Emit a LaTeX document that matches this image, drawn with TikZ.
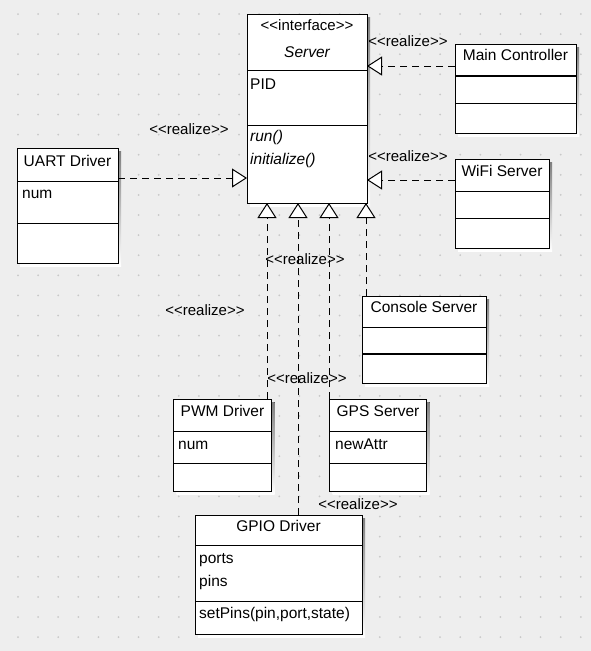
\documentclass[tikz,border=0pt]{standalone}
\usepackage{fontspec}
\setmainfont{Liberation Sans}
\usetikzlibrary{arrows.meta}

\definecolor{canvas}{HTML}{EEEEEE}
\definecolor{griddot}{HTML}{C8C8C8}
\definecolor{shade}{HTML}{D8D8D8}

\tikzset{
  classbox/.style={draw=black, fill=white, line width=1pt, rectangle,
    inner sep=0pt, outer sep=0pt, anchor=north west},
  realize/.style={draw=black, line width=1pt, dash pattern=on 7pt off 5pt,
    -{Triangle[open, length=15pt, width=19pt, fill=white]}},
  boxtext/.style={inner sep=0pt, font=\fontsize{15.5}{18}\selectfont},
  titletext/.style={boxtext, anchor=base},
  membertext/.style={boxtext, anchor=base west},
  stereo/.style={inner sep=0pt, font=\fontsize{15}{18}\selectfont, anchor=base},
  divider/.style={line width=1pt},
  thickdivider/.style={line width=2.2pt},
}

% guillemet-free stereotype brackets (keep the two characters apart)
\newcommand\stereoopen{<{}<}
\newcommand\stereoclose{>{}>}

% class box: name, left, top, width, height (with a soft drop shadow)
\newcommand\classnode[5]{%
  \fill[shade] (#2+3,#3+3) rectangle ++(#4,#5);
  \node[classbox, minimum width=#4pt, minimum height=#5pt] (#1) at (#2,#3) {};
}
% compartment rule across a class box at a given height
\newcommand\classrule[3][divider]{%
  \draw[#1] (#2.west |- 0,#3) -- (#2.east |- 0,#3);
}

\begin{document}
\begin{tikzpicture}[x=1pt, y=-1pt]
  % canvas and dotted grid
  \fill[canvas] (0,0) rectangle (591,651);
  \useasboundingbox (0,0) rectangle (591,651);
  \foreach \i in {0,...,28}
    \foreach \j in {0,...,31}
      \fill[griddot] (18+20.1*\i, 14+20.1*\j) circle (1pt);

  % ---- interface Server
  \classnode{server}{247}{14}{120}{189}
  \classrule{server}{70.5}
  \classrule{server}{125.5}
  \node[stereo] (serverstereo) at (307,30) {\stereoopen interface\stereoclose};
  \node[titletext] (servertitle) at (307,57) {\itshape Server};
  \node[membertext] (serverpid) at (250,89) {PID};
  \node[membertext] (serverrun) at (250,141) {\itshape run()};
  \node[membertext] (serverinit) at (250,164) {\itshape initialize()};

  % ---- Main Controller
  \classnode{mc}{455}{44}{121}{89}
  \classrule[thickdivider]{mc}{76}
  \classrule{mc}{103}
  \node[titletext] (mctitle) at (515.5,60) {Main Controller};

  % ---- WiFi Server
  \classnode{wifi}{455}{159}{94}{89}
  \classrule{wifi}{191}
  \classrule{wifi}{218}
  \node[titletext] (wifititle) at (502,176) {WiFi Server};

  % ---- UART Driver
  \classnode{uart}{17}{148}{101}{115}
  \classrule{uart}{181}
  \classrule{uart}{223}
  \node[titletext] (uarttitle) at (67.5,166) {UART Driver};
  \node[membertext] (uartnum) at (22,198) {num};

  % ---- Console Server
  \classnode{console}{362}{296}{124}{87}
  \classrule{console}{327}
  \classrule[thickdivider]{console}{354}
  \node[titletext] (consoletitle) at (424,312) {Console Server};

  % ---- PWM Driver
  \classnode{pwm}{173.5}{399}{98}{92}
  \classrule{pwm}{431}
  \classrule{pwm}{463}
  \node[titletext] (pwmtitle) at (222.5,416) {PWM Driver};
  \node[membertext] (pwmnum) at (178,449) {num};

  % ---- GPS Server
  \classnode{gps}{329.5}{399}{97}{92}
  \classrule{gps}{431}
  \classrule{gps}{463}
  \node[titletext] (gpstitle) at (378,416) {GPS Server};
  \node[membertext] (gpsattr) at (335,449) {newAttr};

  % ---- GPIO Driver
  \classnode{gpio}{195}{515}{167}{119}
  \classrule{gpio}{545}
  \classrule{gpio}{601}
  \node[titletext] (gpiotitle) at (278.5,531) {GPIO Driver};
  \node[membertext] (gpioports) at (199,563) {ports};
  \node[membertext] (gpiopins) at (199,586) {pins};
  \node[membertext] (gpioset) at (199,618) {setPins(pin,port,state)};

  % ---- realizations
  \draw[realize] (mc.west |- 0,66) -- (server.east |- 0,66);
  \draw[realize] (wifi.west |- 0,180) -- (server.east |- 0,180);
  \draw[realize] (uart.east |- 0,178) -- (server.west |- 0,178);
  \draw[realize] (pwm.north -| 267,0) -- (server.south -| 267,0);
  \draw[realize] (gpio.north -| 298,0) -- (server.south -| 298,0);
  \draw[realize] (gps.north -| 329,0) -- (server.south -| 329,0);
  \draw[realize] (console.north -| 366,0) -- (server.south -| 366,0);

  % ---- stereotype labels
  \node[stereo] (lblmc) at (408,46) {\stereoopen realize\stereoclose};
  \node[stereo] (lblwifi) at (408,161) {\stereoopen realize\stereoclose};
  \node[stereo] (lbluart) at (189,134) {\stereoopen realize\stereoclose};
  \node[stereo] (lblconsole) at (305,264) {\stereoopen realize\stereoclose};
  \node[stereo] (lblpwm) at (205,315) {\stereoopen realize\stereoclose};
  \node[stereo] (lblgps) at (307,383) {\stereoopen realize\stereoclose};
  \node[stereo] (lblgpio) at (358,509) {\stereoopen realize\stereoclose};
\end{tikzpicture}
\end{document}
